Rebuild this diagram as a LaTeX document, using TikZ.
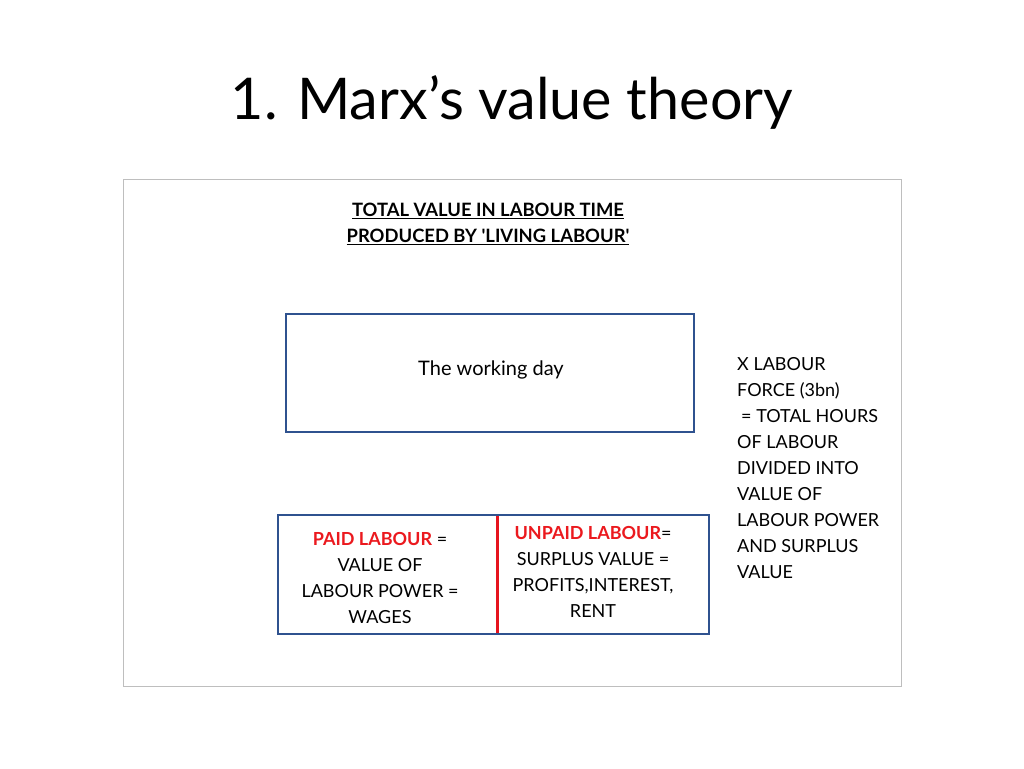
\documentclass[tikz,border=0pt]{standalone}
\usepackage{fontspec}
\setmainfont{Lato}
\newfontfamily\rawlato{Lato}
\definecolor{boxblue}{RGB}{47,82,143}
\definecolor{redline}{RGB}{230,20,30}
\definecolor{redtext}{RGB}{235,25,30}
\definecolor{framegray}{RGB}{190,190,190}
\begin{document}
\begin{tikzpicture}[x=1pt,y=-1pt,
  bodytext/.style={font=\fontsize{18}{26}\selectfont, inner sep=0pt, text=black},
  bluebox/.style={draw=boxblue, line width=1.6pt},
  frame/.style={draw=framegray, line width=1pt}]
\useasboundingbox[fill=white] (0,0) rectangle (1024,768);
\node[inner sep=0pt, font=\fontsize{57.5}{64}\selectfont] (title) at (512,102) {1. Marx’s value theory};
\draw[frame] (123,179) rectangle (901,686);
\node[bodytext, font=\rawlato\bfseries\fontsize{18.4}{26}\selectfont, align=center] (head) at (488,224)
  {\underline{TOTAL VALUE IN LABOUR TIME}\\\underline{PRODUCED BY 'LIVING LABOUR'}};
\node[bluebox, minimum width=408pt, minimum height=118pt, inner sep=0pt] (day) at (490,373) {};
\node[bodytext, font=\fontsize{20}{26}\selectfont] (daytext) at (491,370) {The working day};
\draw[bluebox] (278,515) rectangle (709,634);
\draw[draw=redline, line width=3pt] (497,516) -- (497,633);
\node[bodytext, align=center] (paid) at (380,578)
  {\textcolor{redtext}{\bfseries PAID LABOUR} =\\VALUE OF\\LABOUR POWER =\\WAGES};
\node[bodytext, align=center] (unpaid) at (593,572)
  {\textcolor{redtext}{\bfseries UNPAID LABOUR}=\\SURPLUS VALUE =\\PROFITS,INTEREST,\\RENT};
\node[bodytext, align=left, anchor=north west] (right) at (737,357)
  {X LABOUR\\FORCE (3bn)\\\hspace*{4pt}= TOTAL HOURS\\OF LABOUR\\DIVIDED INTO\\VALUE OF\\LABOUR POWER\\AND SURPLUS\\VALUE};
\end{tikzpicture}
\end{document}
